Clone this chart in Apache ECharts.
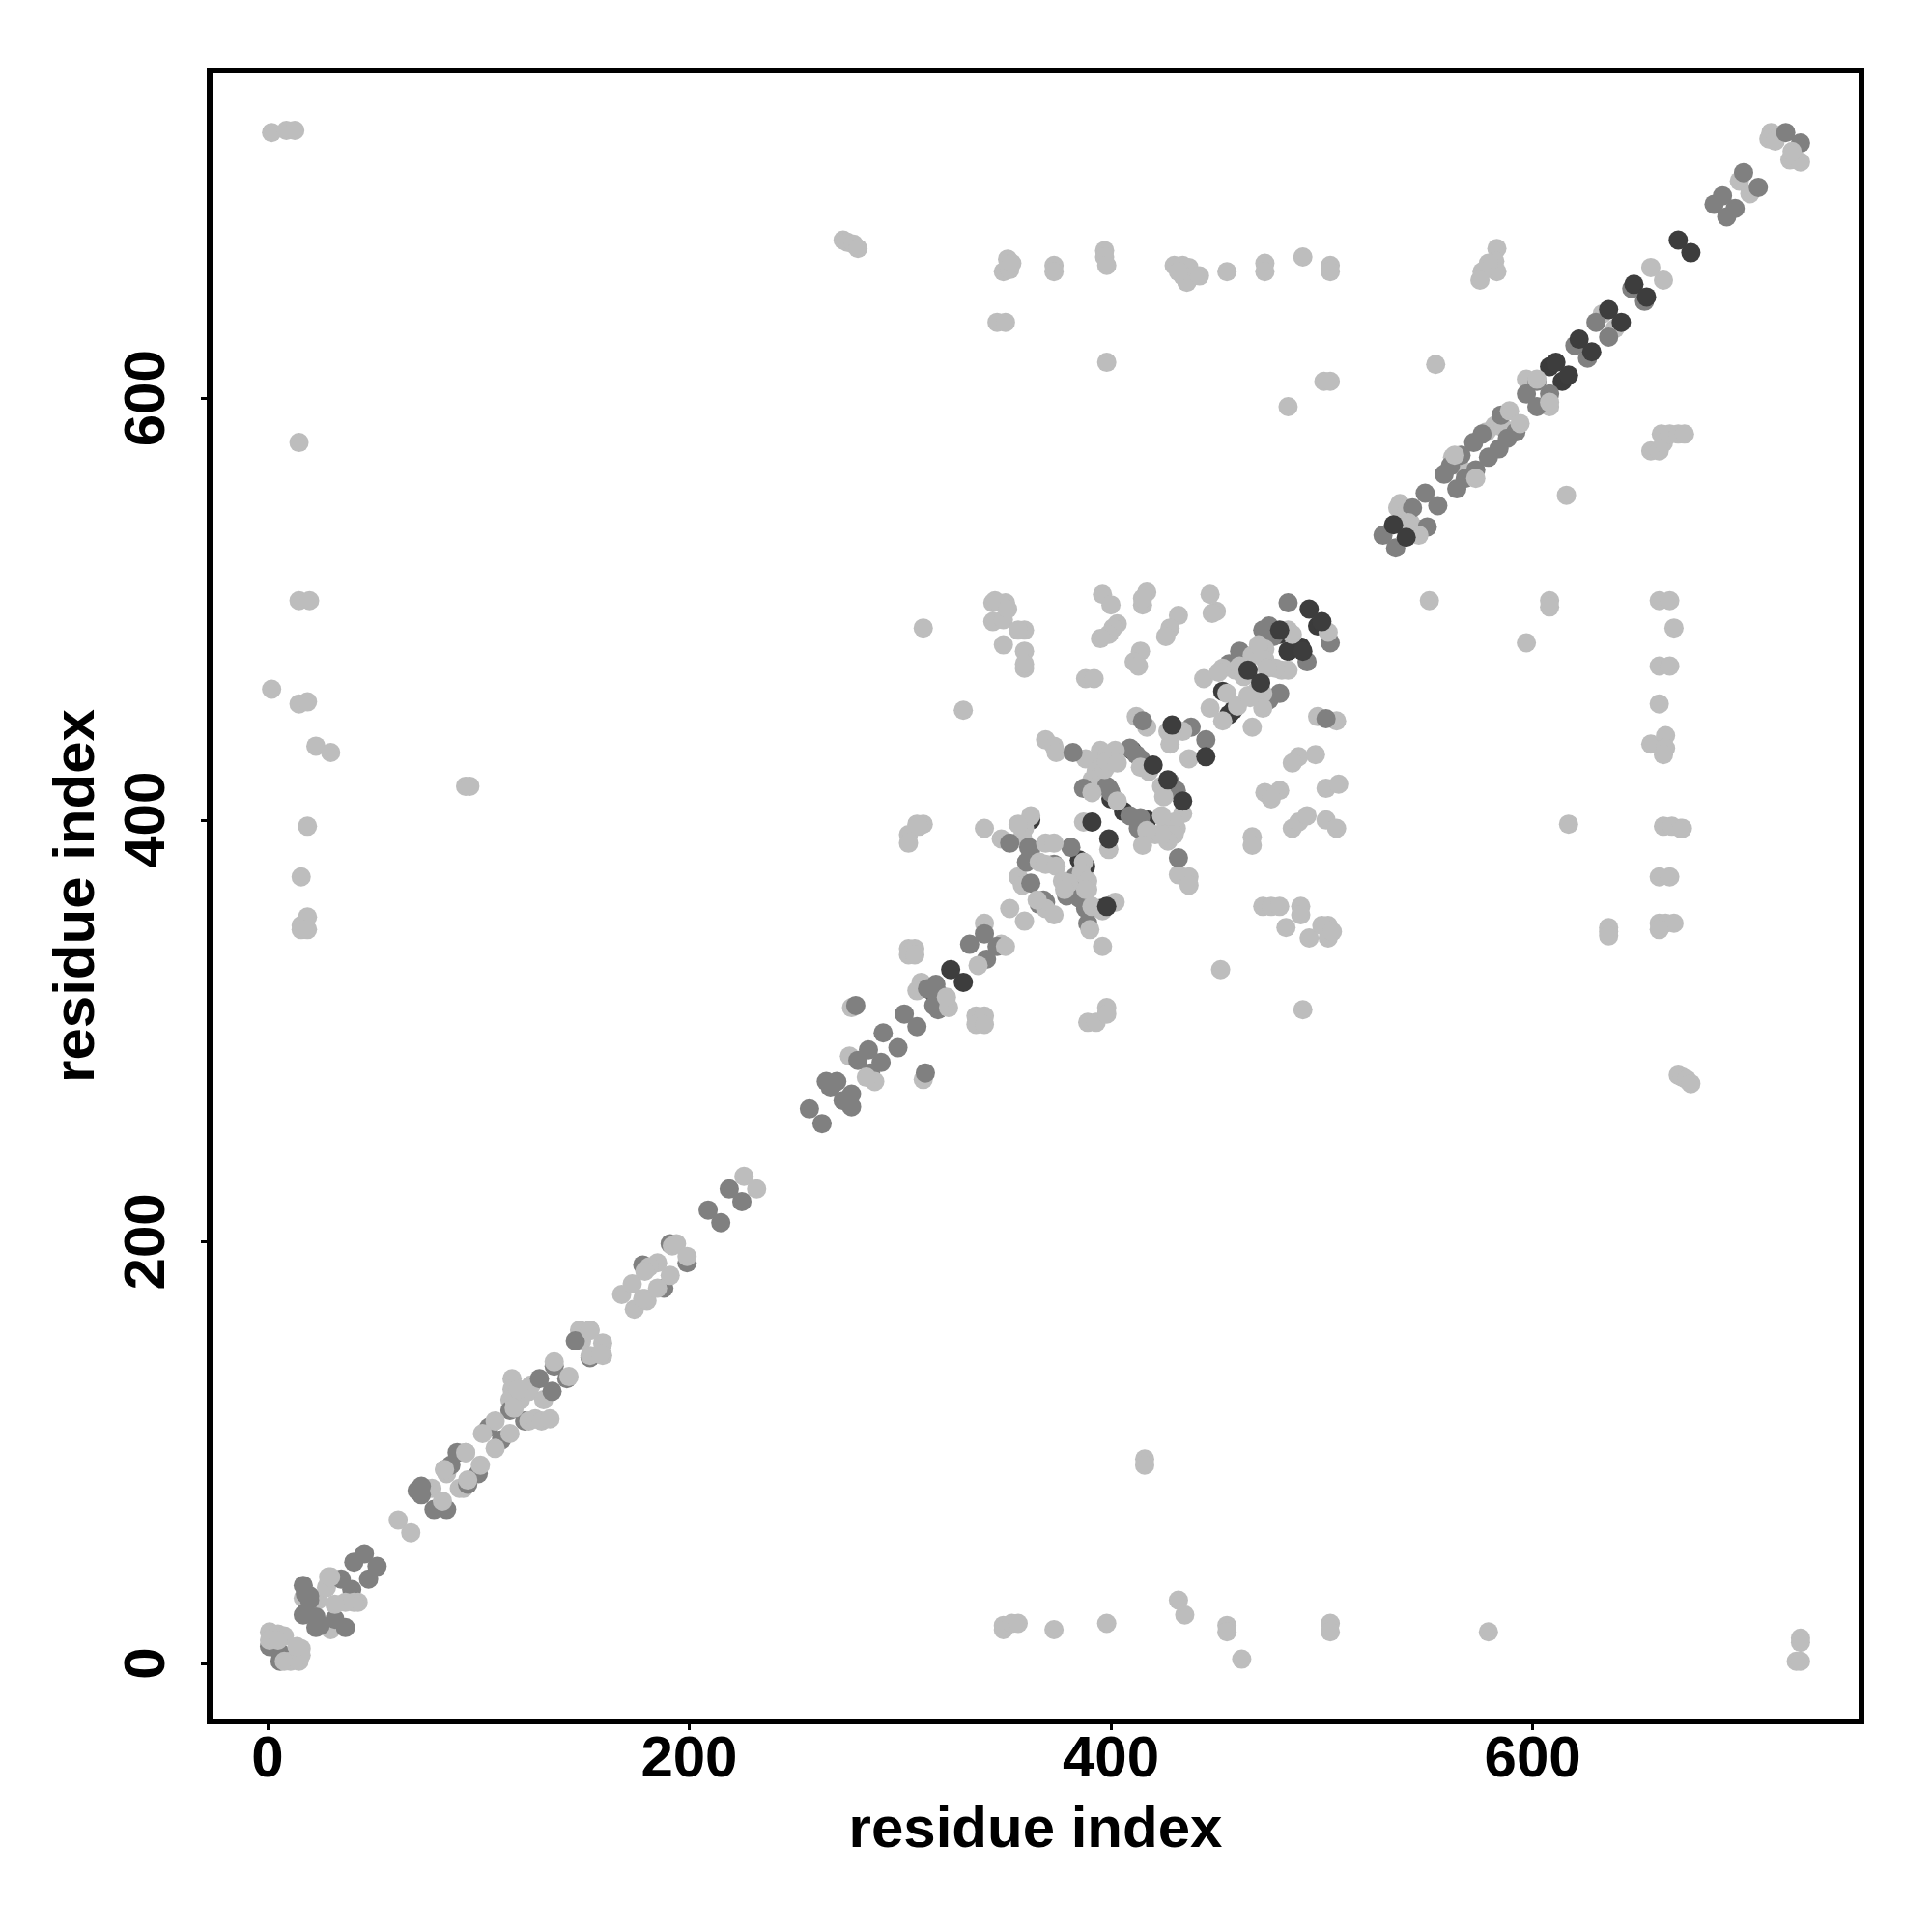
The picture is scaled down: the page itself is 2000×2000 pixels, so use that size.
<!DOCTYPE html>
<html><head><meta charset="utf-8">
<style>html,body{margin:0;padding:0;background:#fff}#c{width:2000px;height:2000px}</style>
<script src="https://cdn.jsdelivr.net/npm/echarts@6/dist/echarts.min.js"></script>
</head><body><div id="c"></div>
<script>
var tickValues=[0,200,400,600];
var axisTitle="residue index";
var darkUnder=[[608,615],[614,608],[480,488],[490,482],[453,461],[458,452],[498,492],[362,400],[385,381],[400,410],[406,404],[396,417],[392,415],[410,433],[417,400],[316,318],[484,480],[456,450],[388,378],[395,358]];
var lightUnder=[[2,726],[9,727],[13,727],[15,579],[15,504],[20,504],[2,462],[15,455],[19,456],[23,435],[30,432],[19,397],[16,373],[16,350],[19,354],[16,348],[19,348],[94,416],[96,416],
[416,97],[416,94],[349,16],[349,18],[353,19],[356,19],[373,16],[398,19],[432,30],[435,23],[455,18],[455,15],[462,2],[504,19],[504,15],[579,15],[727,12],[727,10],[725,1],[727,1],
[273,675],[275,674],[278,673],[280,671],[351,666],[349,660],[352,661],[353,664],[373,663],[373,660],[397,670],[397,667],[398,663],[430,663],[434,663],[437,662],[434,658],[436,655],[442,658],[432,660],[455,660],[473,664],[473,660],[491,667],[504,663],[504,660],
[583,671],[582,665],[583,660],[579,664],[576,660],[575,656],[346,636],[350,636],[398,617],[554,616],[484,596],[501,608],[504,608],
[656,575],[660,575],[662,579],[661,583],[665,583],[669,583],[672,583],[551,504],[616,554],[608,504],[608,501],[597,484],[660,504],[665,504],[667,491],[660,473],[665,473],[660,455],
[656,436],[663,440],[663,434],[662,431],[617,398],[662,397],[666,397],[670,396],[671,396],[660,373],[665,373],[660,351],[663,351],[667,351],[660,348],[636,349],[636,347],[636,345],[669,279],[671,278],[673,277],[675,275],
[311,491],[344,503],[350,503],[344,494],[349,495],[345,504],[351,500],[359,490],[356,490],[349,483],[359,480],[359,472],[359,474],[330,452],[388,467],[392,467],[396,507],[400,502],[403,493],[401,491],[399,488],[395,486],[417,508],[415,502],[415,505],[432,497],[428,491],[426,487],[447,507],[450,499],[448,498],[414,480],[411,475],[413,473],[444,467],[447,453],[453,447],[467,444],[412,449],[417,444],[369,438],[373,435],[374,432],[388,429],[395,433],[340,396],[311,398],[308,398],[304,393],[304,389],[309,397],[348,391],[432,374],[437,373],[437,369],[396,340],[452,329],[491,310],[336,307],[340,307],[336,303],[340,303],[389,304],[393,304],[398,311],[398,308],[304,339],[307,339],[304,336],[307,336],
[472,359],[476,359],[480,359],[490,359],[490,355],[483,349],[494,344],[503,350],[503,344],[500,350],[505,347],[467,392],[467,388],[473,413],[480,414],[476,410],[489,430],[486,427],[497,431],[502,415],[508,417],[486,396],[489,399],[493,402],[502,400],[507,396],[498,449],[507,447],
[276,288],[277,311],[311,277],[226,231],[232,225],[62,68],[68,62],[597,609],[608,596],[537,550],[713,726],[712,723],[715,722],[698,703],[703,697],[656,662],[662,656],[633,640],[639,633],[310,320],[310,323],[308,319],[387,399],[399,386],[30,16],[17,31],[24,30],[148,158],[153,158],[94,100],[78,83],[348,341],[340,351],
[29,41],[28,36],[84,92],[85,90],[91,83],[93,83],[149,153],[116,135],[116,130],[115,125],[120,125],[125,132],[124,129],[131,125],[562,572],[565,568],[570,564],[582,587],[578,584],[586,586],[536,548],[540,545],[542,541],[545,538],[359,396],[358,392],[360,380],[356,373],[358,369],[398,430],[396,427],[393,423],[391,419],[389,416],[394,416]];
var mid=[[720,726],[727,721],[700,707],[707,700],[690,696],[696,690],[686,692],[692,686],[647,652],[653,646],[630,636],[636,629],[620,625],[626,619],[602,608],[608,602],[597,602],[602,596],[585,592],[592,584],[576,583],[584,576],[572,579],[579,572],[566,573],[573,566],[558,564],[564,557],[561,568],[568,562],[588,581],[549,555],[555,549],[543,548],[550,539],[529,535],[535,529],
[484,503],[504,484],[475,492],[472,490],[477,487],[493,475],[461,480],[456,474],[480,460],[475,457],[502,448],[415,447],[438,444],[445,438],[409,434],[412,431],[414,429],[431,414],[428,418],[387,415],[399,415],[398,416],[400,413],[409,402],[414,401],[413,396],[382,432],[432,382],[352,389],[361,387],[361,381],[362,386],[381,387],[373,379],[360,380],[362,370],[369,361],[368,362],[366,360],[385,363],[388,358],[379,364],[383,373],[389,351],[380,368],[340,346],[333,341],[346,340],[341,334],[302,308],[308,302],[292,299],[299,292],[285,291],[280,286],[291,285],[286,280],[279,312],[312,280],[317,322],[313,320],[318,318],[318,310],[316,312],[270,276],[265,276],[267,273],[277,270],[277,264],[273,267],[257,263],[263,256],[219,225],[225,219],[209,215],[215,209],[191,199],[199,190],[188,178],[178,189],[146,153],[153,145],[136,141],[142,135],[129,135],[135,129],[122,115],[115,120],[105,112],[111,106],[90,100],[87,94],[100,90],[95,85],[73,84],[73,80],[71,82],[85,73],[79,73],[46,52],[52,46],[41,48],[48,40],[35,40],[17,37],[40,35],[18,33],[20,32],[20,30],[17,23],[18,24],[23,22],[25,18],[23,17],[32,21],[37,17],[1,8],[6,5],[7,2],[6,1]];
var lightOver=[[722,713],[727,712],[723,717],[602,609],[608,598],[589,594],[594,588],[563,573],[573,562],[541,541],[546,535],[537,542],[473,481],[467,478],[470,483],[473,476],[484,490],[503,489],[486,488],[481,471],[484,471],[478,472],[474,472],[453,472],[451,470],[459,471],[461,473],[463,468],[465,459],[469,461],[472,460],[472,453],[455,460],[460,454],[466,458],[402,433],[400,427],[397,424],[398,428],[403,427],[414,425],[418,423],[427,442],[434,442],[428,436],[437,429],[424,416],[425,411],[434,403],[431,396],[426,399],[430,399],[424,402],[421,393],[426,393],[430,393],[427,390],[424,393],[403,409],[417,395],[415,388],[391,413],[362,402],[356,398],[369,389],[373,389],[366,380],[369,379],[374,378],[387,380],[386,375],[389,371],[389,367],[377,371],[380,370],[378,367],[388,367],[369,358],[373,355],[365,362],[352,358],[359,352],[350,340],[391,359],[396,357],[402,361],[390,348],[337,331],[323,311],[322,316],[288,276],[284,278],[192,198],[194,199],[199,193],[191,184],[185,190],[181,188],[168,175],[173,180],[179,186],[174,168],[179,173],[185,178],[180,172],[178,173],[153,158],[159,152],[159,146],[153,146],[158,147],[136,143],[143,136],[117,125],[119,130],[117,121],[124,115],[127,116],[130,115],[134,116],[108,115],[102,109],[115,109],[108,102],[94,100],[95,87],[84,92],[101,94],[83,77],[43,29],[41,29],[37,29],[32,28],[30,41],[1,15],[5,14],[8,13],[1,11],[5,11],[11,1],[8,1],[15,1],[16,7],[16,4],[14,8]];
var dark=[[669,675],[675,669],[648,654],[654,648],[636,642],[642,636],[622,628],[628,622],[611,617],[617,611],[534,540],[540,534],[494,500],[500,494],[480,490],[491,480],[465,471],[471,465],[429,445],[445,430],[420,426],[427,419],[434,409],[391,399],[399,391],[398,359],[324,329],[330,323]];

var gray={darkUnder:'#3b3b3b',lightUnder:'#bdbdbd',mid:'#808080',lightOver:'#bdbdbd',dark:'#3d3d3d'};
function layer(d,c){return {type:'scatter',data:d,symbol:'circle',symbolSize:20,silent:true,itemStyle:{color:c,opacity:1},emphasis:{disabled:true}};}
function axis(name,gap,rot,margin,min,max){return {type:'value',min:min,max:max,name:name,nameLocation:'middle',nameGap:gap,
 nameTextStyle:{fontFamily:'Liberation Sans',fontWeight:'bold',fontSize:60,color:'#000'},
 splitLine:{show:false},axisLine:{show:false,onZero:false},
 axisTick:{show:true,length:9,customValues:tickValues,lineStyle:{color:'#000',width:3}},
 axisLabel:{show:true,customValues:tickValues,rotate:rot,margin:margin,fontFamily:'Liberation Sans',fontWeight:'bold',fontSize:60,color:'#000',hideOverlap:false,showMinLabel:true,showMaxLabel:true}};}
var chart=echarts.init(document.getElementById('c'),null,{renderer:'canvas'});
chart.setOption({animation:false,backgroundColor:'#fff',
 grid:{left:217,top:73,width:1710,height:1709,show:true,borderColor:'#000',borderWidth:6,backgroundColor:'transparent',containLabel:false},
 xAxis:axis(axisTitle,83,0,10,-27.4,755.9),
 yAxis:axis(axisTitle,107,90,34,-27.5,755.4),
 series:[layer(darkUnder,gray.darkUnder),layer(lightUnder,gray.lightUnder),layer(mid,gray.mid),layer(lightOver,gray.lightOver),layer(dark,gray.dark)]
});
</script></body></html>
